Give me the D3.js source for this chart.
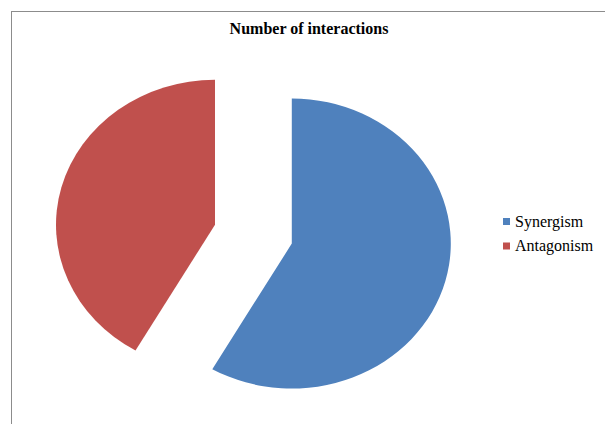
<!DOCTYPE html>
<html>
<head>
<meta charset="utf-8">
<script src="https://cdn.jsdelivr.net/npm/d3@7"></script>
<style>
  html, body { margin: 0; padding: 0; background: #fff; }
  svg { display: block; }
</style>
</head>
<body>
<svg id="chart" width="605" height="424"></svg>
<script>
// Interaction counts by type
const categories = ["Synergism", "Antagonism"];
const counts = [7, 5];
const colors = ["#4F81BD", "#C0504D"];
const title = "Number of interactions";

const svg = d3.select("#chart");

// Chart frame (runs off the right and bottom edges)
svg.append("rect")
  .attr("x", 11.5).attr("y", 11.5)
  .attr("width", 620).attr("height", 440)
  .attr("fill", "#fff")
  .attr("stroke", "#8c8c8c")
  .attr("stroke-width", 1);

svg.append("text")
  .attr("x", 309).attr("y", 34)
  .attr("text-anchor", "middle")
  .attr("font-family", "'Liberation Serif', 'Times New Roman', serif")
  .attr("font-weight", "bold")
  .attr("font-size", 16)
  .attr("fill", "#000")
  .text(title);

// Exploded pie, drawn on a circle and squashed vertically
const rx = 159, ry = 145;
const explode = 0.25;
const cx = 253.4, cy = 234.2;

const pie = d3.pie().sort(null).value(d => d.value);
const arcs = pie(categories.map((c, i) => ({ name: c, value: counts[i], color: colors[i] })));
const arc = d3.arc().innerRadius(0).outerRadius(rx);

const g = svg.append("g")
  .attr("transform", `translate(${cx},${cy}) scale(1,${ry / rx})`);

g.selectAll("path")
  .data(arcs)
  .join("path")
  .attr("d", arc)
  .attr("fill", d => d.data.color)
  .attr("transform", d => {
    const mid = (d.startAngle + d.endAngle) / 2;
    const off = explode * rx;
    return `translate(${off * Math.sin(mid)},${-off * Math.cos(mid)})`;
  });

// Legend
const legend = svg.append("g").attr("transform", "translate(503,218)");
const items = legend.selectAll("g")
  .data(categories)
  .join("g")
  .attr("transform", (d, i) => `translate(0,${i * 24.5})`);

items.append("rect")
  .attr("x", 0).attr("y", 0)
  .attr("width", 7).attr("height", 7)
  .attr("fill", (d, i) => colors[i]);

items.append("text")
  .attr("x", 12).attr("y", 8.5)
  .attr("font-family", "'Liberation Serif', 'Times New Roman', serif")
  .attr("font-size", 16)
  .attr("fill", "#000")
  .text(d => d);
</script>
</body>
</html>
